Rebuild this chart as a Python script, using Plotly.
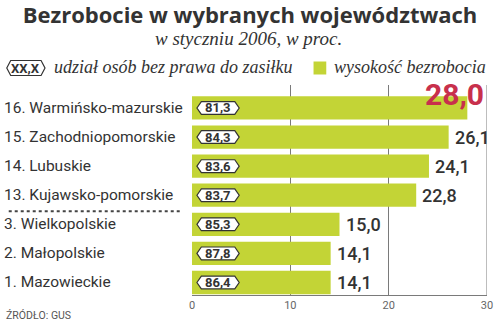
import plotly.graph_objects as go

# ---- data ----
categories = ["16. Warmińsko-mazurskie", "15. Zachodniopomorskie", "14. Lubuskie",
              "13. Kujawsko-pomorskie", "3. Wielkopolskie", "2. Małopolskie", "1. Mazowieckie"]
unemployment = [28.0, 26.1, 24.1, 22.8, 15.0, 14.1, 14.1]
no_benefit_share = [81.3, 84.3, 83.6, 83.7, 85.3, 87.8, 86.4]
x_ticks = [0, 10, 20, 30]

title = "Bezrobocie w wybranych województwach"
subtitle = "w styczniu 2006, w proc."
legend_box = "XX,X"
legend_box_text = "udział osób bez prawa do zasiłku"
legend_bar_text = "wysokość bezrobocia"
source = "ŹRÓDŁO: GUS"

def fmt(v):
    return f"{v:.1f}".replace(".", ",")

W, H = 500, 321
ML, MR, MT, MB = 192, 7, 85, 26
PW, PH = W - ML - MR, H - MT - MB

def px(x):  # pixel x -> paper
    return (x - ML) / PW

def py(y):  # pixel y -> paper
    return (H - MB - y) / PH

GREEN = "#c3d436"
RED = "#c8304c"
DARK = "#333333"
GRID = "#7a7a7a"

idx = list(range(len(categories)))

fig = go.Figure()
fig.add_trace(go.Bar(
    x=unemployment, y=idx, orientation="h", width=0.8,
    marker=dict(color=GREEN, line=dict(width=0)),
    hoverinfo="skip", showlegend=False,
))

shapes = []
annotations = []

# hexagon boxes on the bars (data coords)
bx0, bx1, bd, bh = 0.5, 4.8, 0.45, 0.22
for i, v in zip(idx, no_benefit_share):
    path = (f"M {bx0},{i} L {bx0+bd},{i-bh} L {bx1-bd},{i-bh} L {bx1},{i} "
            f"L {bx1-bd},{i+bh} L {bx0+bd},{i+bh} Z")
    shapes.append(dict(type="path", path=path, xref="x", yref="y",
                       fillcolor="white", line=dict(color=DARK, width=1.2), layer="above"))
    annotations.append(dict(x=(bx0 + bx1) / 2, y=i, xref="x", yref="y", text=fmt(v),
                            xanchor="center", showarrow=False,
                            font=dict(family="Roboto", size=13, color=DARK, weight=700)))

# category labels on the left
for i, c in zip(idx, categories):
    annotations.append(dict(x=px(-2), y=i, xref="paper", yref="y", text=c, xanchor="left",
                            showarrow=False, font=dict(family="Roboto", size=15.5, color=DARK)))

# value labels
vmax = max(unemployment)
for i, v in zip(idx, unemployment):
    if v == vmax:
        annotations.append(dict(x=v, y=i, xref="x", yref="y", text=f"<b>{fmt(v)}</b>",
                                xanchor="center", xshift=-13, yshift=13, showarrow=False,
                                font=dict(family="Roboto", size=30, color=RED)))
    else:
        annotations.append(dict(x=v, y=i, xref="x", yref="y", text=fmt(v), xanchor="left",
                                xshift=4, showarrow=False,
                                font=dict(family="Roboto", size=18, color=DARK, weight=500)))

# dotted separator between top and bottom groups
shapes.append(dict(type="line", xref="paper", yref="y", x0=px(5), x1=px(180), y0=3.55, y1=3.55,
                   line=dict(color="#444444", width=2, dash="dot")))

# right border at 30
shapes.append(dict(type="line", xref="x", yref="paper", x0=30, x1=30, y0=0, y1=1,
                   line=dict(color=GRID, width=1)))

# legend
lx0, lx1, ly0, ly1, ld = 3, 42, 60.5, 75.5, 4
ly = (ly0 + ly1) / 2
path = (f"M {px(lx0)},{py(ly)} L {px(lx0+ld)},{py(ly0)} L {px(lx1-ld)},{py(ly0)} L {px(lx1)},{py(ly)} "
        f"L {px(lx1-ld)},{py(ly1)} L {px(lx0+ld)},{py(ly1)} Z")
shapes.append(dict(type="path", path=path, xref="paper", yref="paper",
                   fillcolor="white", line=dict(color=DARK, width=1.2)))
annotations.append(dict(x=px((lx0 + lx1) / 2), y=py(ly), xref="paper", yref="paper", text=legend_box,
                        xanchor="center", yanchor="middle", showarrow=False,
                        font=dict(family="Roboto", size=13, color=DARK, weight=700)))
annotations.append(dict(x=px(49), y=py(67), xref="paper", yref="paper", text=f"<i>{legend_box_text}</i>",
                        xanchor="left", yanchor="middle", showarrow=False,
                        font=dict(family="Liberation Serif", size=18, color=DARK)))
shapes.append(dict(type="rect", xref="paper", yref="paper", x0=px(316), x1=px(329), y0=py(74.5), y1=py(61.5),
                   fillcolor=GREEN, line=dict(width=0)))
annotations.append(dict(x=px(335), y=py(67), xref="paper", yref="paper", text=f"<i>{legend_bar_text}</i>",
                        xanchor="left", yanchor="middle", showarrow=False,
                        font=dict(family="Liberation Serif", size=18, color=DARK)))

# subtitle and source
annotations.append(dict(x=px(250), y=py(39), xref="paper", yref="paper", text=f"<i>{subtitle}</i>",
                        xanchor="center", yanchor="middle", showarrow=False,
                        font=dict(family="Liberation Serif", size=19, color=DARK)))
annotations.append(dict(x=px(0), y=py(315), xref="paper", yref="paper", text=source, xanchor="left",
                        yanchor="middle", showarrow=False,
                        font=dict(family="Roboto", size=10.5, color="#555555")))

fig.update_layout(
    width=W, height=H, margin=dict(l=ML, r=MR, t=MT, b=MB),
    paper_bgcolor="white", plot_bgcolor="white",
    title=dict(text=f"<b>{title}</b>", x=0.5, xref="container", xanchor="center",
               y=1 - 15 / H, yref="container", yanchor="middle",
               font=dict(family="Open Sans", size=22, color=DARK)),
    xaxis=dict(range=[0, 30], tickvals=x_ticks, ticktext=[str(t) for t in x_ticks],
               showgrid=True, gridcolor=GRID, gridwidth=1, zeroline=False,
               showline=True, linecolor=GRID, linewidth=1, ticks="",
               tickfont=dict(family="Roboto", size=11, color="#666666"), fixedrange=True),
    yaxis=dict(range=[6.43, -0.79], showticklabels=False, showgrid=False, zeroline=False,
               showline=False, fixedrange=True),
    shapes=shapes, annotations=annotations, bargap=0.2,
)

fig.write_html("out.html")
